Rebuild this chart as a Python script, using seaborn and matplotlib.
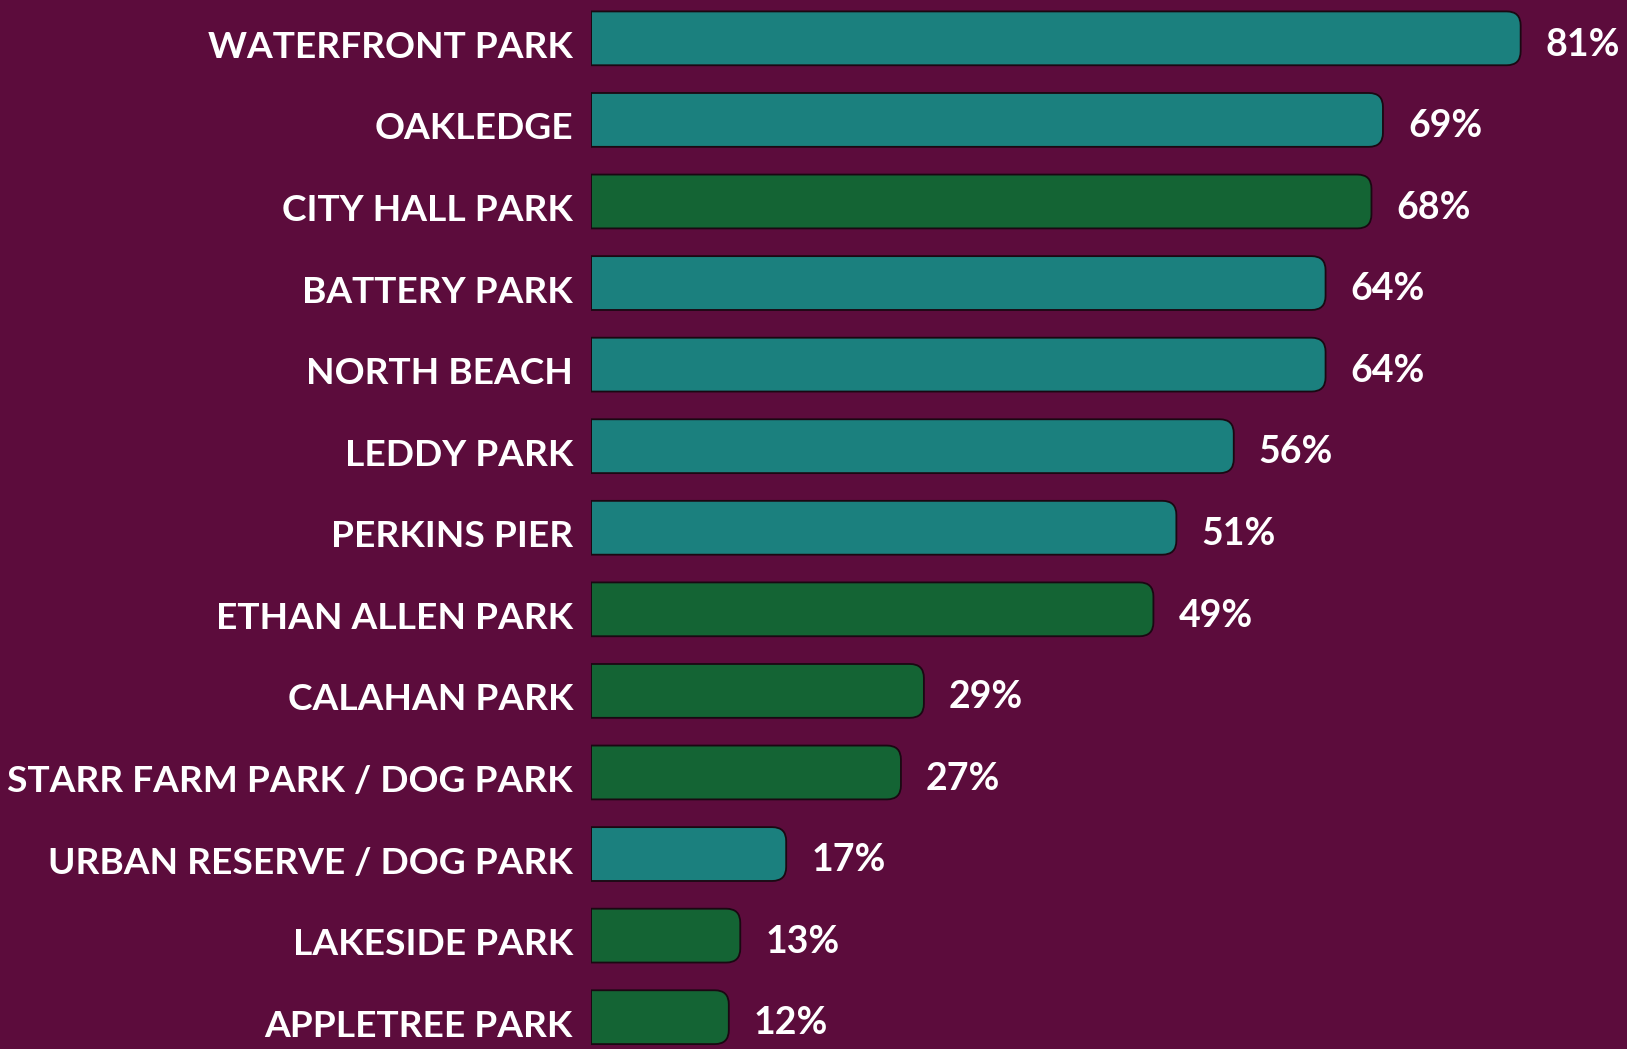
import pandas as pd
import matplotlib.pyplot as plt
import seaborn as sns
from matplotlib.path import Path
from matplotlib.patches import PathPatch
from matplotlib.transforms import ScaledTranslation

#Data
parks = ["WATERFRONT PARK", "OAKLEDGE", "CITY HALL PARK", "BATTERY PARK", "NORTH BEACH",
         "LEDDY PARK", "PERKINS PIER", "ETHAN ALLEN PARK", "CALAHAN PARK",
         "STARR FARM PARK / DOG PARK", "URBAN RESERVE / DOG PARK", "LAKESIDE PARK", "APPLETREE PARK"]
percent = [81, 69, 68, 64, 64, 56, 51, 49, 29, 27, 17, 13, 12]
group = ["teal", "teal", "green", "teal", "teal", "teal", "teal",
         "green", "green", "green", "teal", "green", "green"]

bg = "#5C0C3C"
colors = {"teal": "#1B807E", "green": "#146434"}

df = pd.DataFrame({"park": parks, "percent": percent, "group": group})

sns.set_style("white")
plt.rcParams["font.family"] = ["Lato", "DejaVu Sans"]

fig = plt.figure(figsize=(16.27, 10.49), dpi=100, facecolor=bg)
ax = fig.add_axes([0.3633, 0.0, 0.632, 1.0])
ax.set_facecolor(bg)

sns.barplot(data=df, x="percent", y="park", hue="group", palette=colors,
            saturation=1, dodge=False, legend=False, width=0.66, ax=ax)

ax.set_xlim(0, 89.6)
ax.set_ylim(12.39, -0.47)

#Swap the square bars for ones with rounded right ends
trans = ax.transData
px_x = trans.transform((1, 0))[0] - trans.transform((0, 0))[0]
px_y = abs(trans.transform((0, 1))[1] - trans.transform((0, 0))[1])
r = 14
rx, ry = r / px_x, r / px_y
for bar in list(ax.patches):
    x0, y0 = bar.get_x(), bar.get_y()
    w, h = bar.get_width(), bar.get_height()
    x1, y1 = x0 + w, y0 + h
    verts = [(x0, y0), (x1 - rx, y0), (x1, y0), (x1, y0 + ry),
             (x1, y1 - ry), (x1, y1), (x1 - rx, y1), (x0, y1), (x0, y0)]
    codes = [Path.MOVETO, Path.LINETO, Path.CURVE3, Path.CURVE3,
             Path.LINETO, Path.CURVE3, Path.CURVE3, Path.LINETO, Path.CLOSEPOLY]
    ax.add_patch(PathPatch(Path(verts, codes), facecolor=bar.get_facecolor(),
                           edgecolor="#1A0812", linewidth=1.3, zorder=3))
    bar.remove()

#Value labels
for i, v in enumerate(percent):
    ax.annotate(f"{v}%", (v, i), xytext=(18, -4.5), textcoords="offset points",
                va="center", ha="left", color="white", fontsize=27, fontweight="bold")

ax.set_xlabel("")
ax.set_ylabel("")
ax.set_xticks([])
ax.tick_params(axis="y", length=0, pad=13, labelsize=26.7, labelcolor="white")
shift = ScaledTranslation(0, -6 / 100, fig.dpi_scale_trans)
for lab in ax.get_yticklabels():
    lab.set_fontweight("bold")
    lab.set_transform(lab.get_transform() + shift)
sns.despine(ax=ax, left=True, bottom=True)

fig.savefig("out.png", dpi=100, facecolor=bg)
